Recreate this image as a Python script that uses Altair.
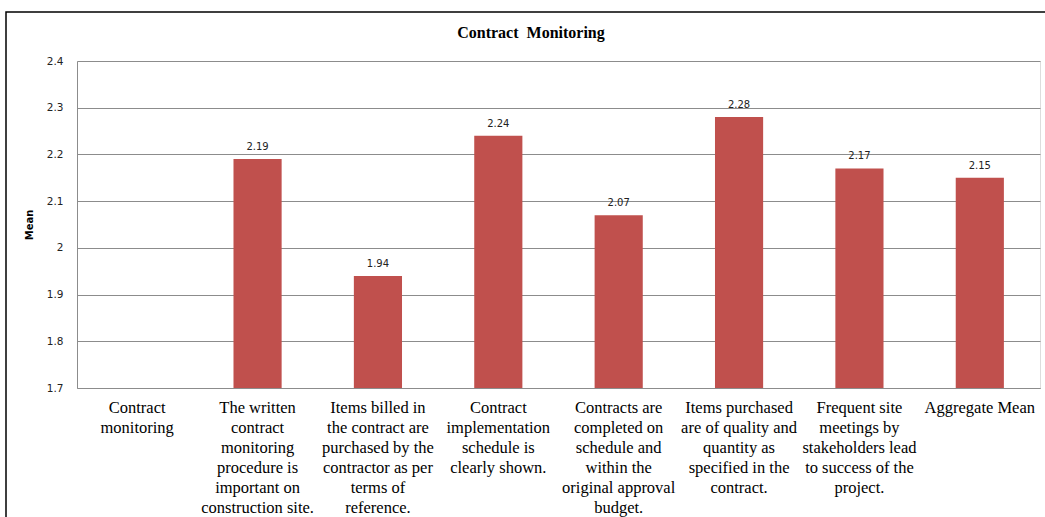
import altair as alt
import pandas as pd

# Survey items (category labels, wrapped into lines) and their mean scores
items = [
    ["Contract", "monitoring"],
    ["The written", "contract", "monitoring", "procedure is", "important on", "construction site."],
    ["Items billed in", "the contract are", "purchased by the", "contractor as per", "terms of", "reference."],
    ["Contract", "implementation", "schedule is", "clearly shown."],
    ["Contracts are", "completed on", "schedule and", "within the", "original approval", "budget."],
    ["Items purchased", "are of quality and", "quantity as", "specified in the", "contract."],
    ["Frequent site", "meetings by", "stakeholders lead", "to success of the", "project."],
    ["Aggregate Mean"],
]
means = [None, 2.19, 1.94, 2.24, 2.07, 2.28, 2.17, 2.15]
chart_title = "Contract\u00a0 Monitoring"

labels = ["|".join(lines) for lines in items]
df = pd.DataFrame({"item": labels, "mean": means})

W, H = 963, 327
BAR = "#C0504D"

x = alt.X(
    "item:N",
    sort=labels,
    scale=alt.Scale(paddingInner=0.6, paddingOuter=0.3),
    axis=alt.Axis(
        title=None,
        labelAngle=0,
        labelExpr="split(datum.value, '|')",
        labelFont="Liberation Serif",
        labelFontSize=16.5,
        labelLineHeight=20,
        labelColor="#000000",
        labelPadding=11,
        labelLimit=0,
        labelOverlap=False,
        ticks=False,
        domainColor="#8c8c8c",
        grid=False,
    ),
)

y_scale = alt.Scale(domain=[1.7, 2.4], nice=False, zero=False, clamp=True)

bars = alt.Chart(df).mark_bar(color=BAR, clip=True).encode(
    x=x,
    y=alt.Y(
        "mean:Q",
        scale=y_scale,
        axis=alt.Axis(
            title="Mean",
            values=[1.7, 1.8, 1.9, 2.0, 2.1, 2.2, 2.3, 2.4],
            format=".1~f",
            labelFont="DejaVu Sans",
            labelFontSize=10.5,
            labelColor="#222222",
            labelPadding=14,
            ticks=False,
            domainColor="#8c8c8c",
            gridColor="#8c8c8c",
            gridWidth=1,
            titleFont="DejaVu Sans",
            titleFontSize=10,
            titleFontWeight="bold",
            titleColor="#000000",
            titleX=-43,
        ),
    ),
    y2=alt.datum(1.7),
)

text = alt.Chart(df).mark_text(
    baseline="bottom", dy=-7, font="DejaVu Sans", fontSize=10, color="#222222"
).encode(
    x=alt.X("item:N", sort=labels),
    y=alt.Y("mean:Q", scale=y_scale),
    text=alt.Text("mean:Q", format=".2f"),
)

# outer chart frame
frame = alt.Chart(pd.DataFrame({"k": [0]})).mark_rect(
    fill=None, stroke="#000000", strokeWidth=1.5, clip=False
).encode(
    x=alt.value(-71), x2=alt.value(W + 20),
    y=alt.value(-49), y2=alt.value(H + 160),
)

# chart heading, centred on the outer frame
heading = alt.Chart(pd.DataFrame({"t": [chart_title]})).mark_text(
    font="Liberation Serif", fontSize=16, fontWeight="bold", color="#000000",
    align="center", baseline="middle", clip=False,
).encode(
    x=alt.value(454), y=alt.value(-28), text="t:N",
)

chart = alt.layer(frame, bars, text, heading).properties(
    width=W,
    height=H,
    autosize=alt.AutoSizeParams(type="none"),
    padding={"left": 77, "top": 61, "right": 5, "bottom": 129},
).configure_view(
    stroke="#8c8c8c", strokeWidth=1
).configure(background="#ffffff")

chart.save("out.html", embed_options={"renderer": "svg", "actions": False})
